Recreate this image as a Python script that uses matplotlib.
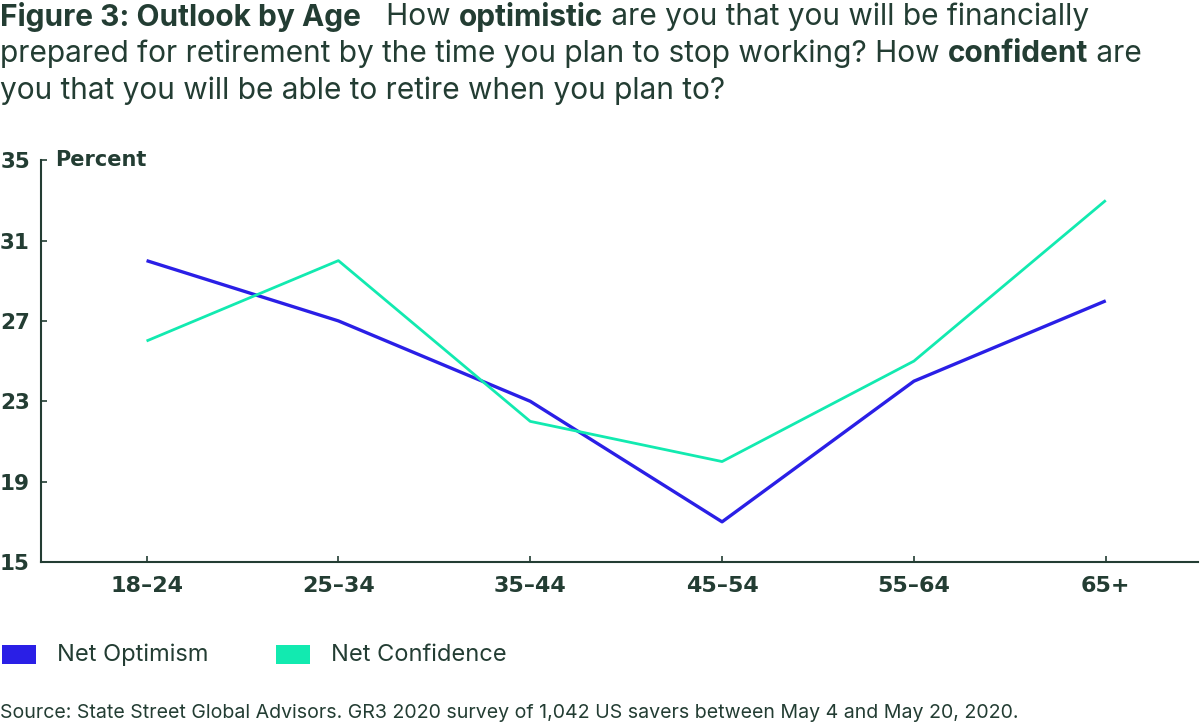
import matplotlib
matplotlib.use("Agg")
import matplotlib.pyplot as plt
from matplotlib.patches import Rectangle

categories = ["18–24", "25–34", "35–44", "45–54", "55–64", "65+"]
net_optimism = [30, 27, 23, 17, 24, 28]
net_confidence = [26, 30, 22, 20, 25, 33]
yticks = [15, 19, 23, 27, 31, 35]

TXT = "#233d33"
BLUE = "#2a1fe6"
MINT = "#12eab0"
FONT = "Inter"
TICKFONT = "DejaVu Sans"

fig = plt.figure(figsize=(12, 7.28), dpi=100)
fig.patch.set_facecolor("white")
ax = fig.add_axes([0.0342, 0.228, 0.964, 0.552])

x = list(range(len(categories)))
ax.plot(x, net_optimism, color=BLUE, lw=2.4, solid_capstyle="butt", zorder=3)
ax.plot(x, net_confidence, color=MINT, lw=2.0, solid_capstyle="butt", zorder=3)

ax.set_xlim(-0.55, 5.48)
ax.set_ylim(15, 35)
ax.set_xticks(x)
ax.set_xticklabels(categories)
ax.set_yticks(yticks)
for s in ["top", "right"]:
    ax.spines[s].set_visible(False)
for s in ["left", "bottom"]:
    ax.spines[s].set_color(TXT)
    ax.spines[s].set_linewidth(1.5)
ax.tick_params(axis="both", direction="in", length=4, width=1.2, color=TXT,
               labelcolor=TXT, labelsize=15.5)
ax.tick_params(axis="x", pad=10, labelsize=16)
ax.tick_params(axis="y", pad=8)
for lab in ax.get_xticklabels() + ax.get_yticklabels():
    lab.set_fontfamily(TICKFONT)
    lab.set_fontweight("bold")

fig.text(55 / 1200, 1 - 160 / 728, "Percent", fontsize=15, fontweight="bold",
         family=TICKFONT, color=TXT, va="center", ha="left")

renderer = fig.canvas.get_renderer()

def draw_line(pieces, y_px, size=21.5):
    xpos = 0.0
    for txt, bold in pieces:
        t = fig.text(xpos, 1 - y_px / 728, txt, fontsize=size,
                     fontweight="bold" if bold else "normal", family=FONT,
                     color=TXT, va="center", ha="left")
        bb = t.get_window_extent(renderer=renderer)
        xpos += bb.width / fig.bbox.width

draw_line([("Figure 3: Outlook by Age", True), ("   How ", False), ("optimistic", True),
           (" are you that you will be financially", False)], 17)
draw_line([("prepared for retirement by the time you plan to stop working? How ", False),
           ("confident", True), (" are", False)], 54)
draw_line([("you that you will be able to retire when you plan to?", False)], 91)

for x0, col, lab in [(2, BLUE, "Net Optimism"), (276, MINT, "Net Confidence")]:
    fig.patches.append(Rectangle((x0 / 1200, 1 - 664 / 728), 34 / 1200, 19 / 728,
                                 transform=fig.transFigure, facecolor=col,
                                 edgecolor="none"))
    fig.text((x0 + 55) / 1200, 1 - 655 / 728, lab, fontsize=17, family=FONT,
             color=TXT, va="center", ha="left")

fig.text(0.0, 1 - 713 / 728,
         "Source: State Street Global Advisors. GR3 2020 survey of 1,042 US savers between May 4 and May 20, 2020.",
         fontsize=14.1, family=FONT, color=TXT, va="center", ha="left")

fig.savefig("out.png", dpi=100, facecolor="white")
